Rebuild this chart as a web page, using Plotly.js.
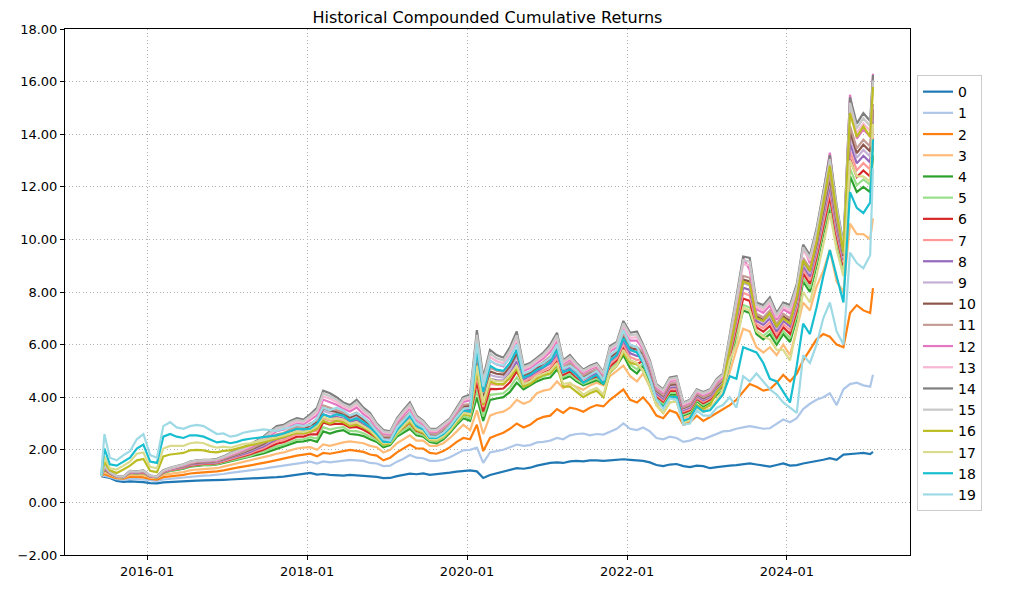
<!DOCTYPE html>
<html>
<head>
<meta charset="utf-8">
<script src="https://cdn.plot.ly/plotly-3.0.1.min.js"></script>
<style>html,body{margin:0;padding:0;background:#fff;}#chart{width:1012px;height:589px;}</style>
</head>
<body>
<div id="chart"></div>
<script>
// Sample dates: start, early spike, mid-month points 2015-07 .. 2025-01, last day
const dates = (function(){ const d=['2015-06-05','2015-06-20']; let y=2015,m=7; while(!(y===2025&&m===2)){ d.push(y+'-'+String(m).padStart(2,'0')+'-15'); m++; if(m>12){m=1;y++;} } d.push('2025-01-28'); return d; })();

const seriesNames = ['0','1','2','3','4','5','6','7','8','9','10','11','12','13','14','15','16','17','18','19'];
const colors = ['#1f77b4','#aec7e8','#ff7f0e','#ffbb78','#2ca02c','#98df8a','#d62728','#ff9896','#9467bd','#c5b0d5','#8c564b','#c49c94','#e377c2','#f7b6d2','#7f7f7f','#c7c7c7','#bcbd22','#dbdb8d','#17becf','#9edae5'];
const yTickVals = [-2,0,2,4,6,8,10,12,14,16,18];
const xTickVals = ['2016-01-01','2018-01-01','2020-01-01','2022-01-01','2024-01-01'];
const xTickText = ['2016-01','2018-01','2020-01','2022-01','2024-01'];

const s0 = [1.00,0.97,0.93,0.82,0.78,0.80,0.79,0.77,
0.73,0.72,0.76,0.78,0.79,0.80,0.82,0.83,0.84,0.84,0.85,0.86,
0.87,0.88,0.89,0.90,0.91,0.92,0.94,0.96,0.98,1.01,1.04,1.07,
1.12,1.06,1.08,1.05,1.03,1.02,1.05,1.03,1.01,0.98,0.97,0.92,
0.93,1.00,1.04,1.09,1.07,1.10,1.05,1.07,1.10,1.13,1.17,1.20,
1.22,1.18,0.93,1.04,1.10,1.18,1.24,1.30,1.28,1.32,1.40,1.46,
1.50,1.52,1.50,1.56,1.58,1.56,1.60,1.60,1.58,1.60,1.62,1.64,
1.62,1.60,1.58,1.52,1.42,1.38,1.44,1.46,1.38,1.34,1.40,1.38,
1.30,1.34,1.38,1.40,1.42,1.46,1.48,1.44,1.40,1.36,1.42,1.48,
1.40,1.42,1.48,1.52,1.58,1.62,1.68,1.62,1.82,1.85,1.86,1.88,
1.84,1.92];
const s1 = [1.00,1.02,0.96,0.88,0.86,0.90,0.89,0.87,
0.83,0.82,0.87,0.90,0.92,0.94,0.98,1.00,1.02,1.03,1.05,1.08,
1.12,1.15,1.18,1.20,1.24,1.28,1.32,1.36,1.40,1.45,1.50,1.52,
1.55,1.48,1.56,1.52,1.55,1.58,1.62,1.60,1.58,1.50,1.48,1.38,
1.40,1.55,1.65,1.80,1.70,1.68,1.58,1.58,1.62,1.72,1.85,1.98,
2.00,2.08,1.50,1.90,1.95,2.00,2.10,2.20,2.15,2.18,2.28,2.30,
2.35,2.45,2.40,2.55,2.60,2.62,2.55,2.60,2.58,2.70,2.80,3.00,
2.80,2.75,2.85,2.70,2.45,2.40,2.50,2.45,2.30,2.35,2.45,2.40,
2.50,2.60,2.70,2.72,2.80,2.85,2.90,2.85,2.80,2.82,3.00,3.15,
3.05,3.20,3.55,3.75,3.90,4.00,4.15,3.70,4.30,4.50,4.55,4.45,
4.40,4.85];
const s2 = [1.00,1.08,1.00,0.92,0.90,0.98,0.97,0.95,
0.89,0.87,0.96,1.00,1.02,1.05,1.10,1.12,1.14,1.15,1.18,1.22,
1.28,1.32,1.36,1.40,1.45,1.50,1.55,1.60,1.66,1.72,1.78,1.82,
1.85,1.75,1.88,1.85,1.90,1.95,2.00,1.96,1.92,1.82,1.78,1.60,
1.70,1.90,2.05,2.20,2.05,2.05,1.88,1.85,1.95,2.10,2.30,2.45,
2.40,2.95,1.95,2.45,2.55,2.65,2.80,3.00,2.85,2.95,3.15,3.25,
3.30,3.55,3.40,3.60,3.55,3.45,3.60,3.70,3.65,3.90,4.10,4.30,
3.90,3.80,4.00,3.70,3.30,3.20,3.50,3.40,2.95,3.05,3.30,3.10,
3.25,3.40,3.55,3.70,3.90,4.20,4.50,4.40,4.25,4.30,4.55,4.85,
4.60,4.90,5.40,5.80,6.20,6.40,6.30,6.00,5.90,7.20,7.50,7.30,
7.20,8.15];
const s3 = [1.00,1.15,1.05,0.95,0.93,1.05,1.04,1.05,
0.94,0.92,1.05,1.10,1.12,1.15,1.22,1.25,1.27,1.28,1.30,1.36,
1.42,1.48,1.52,1.58,1.65,1.70,1.78,1.85,1.90,1.98,2.05,2.08,
2.10,2.00,2.20,2.15,2.22,2.28,2.32,2.28,2.25,2.15,2.10,1.90,
2.00,2.25,2.40,2.55,2.35,2.35,2.15,2.15,2.25,2.45,2.70,2.95,
2.75,3.50,2.60,3.30,3.40,3.45,3.60,3.90,3.75,3.85,4.15,4.25,
4.30,4.60,4.35,4.50,4.40,4.28,4.45,4.55,4.45,4.80,5.00,5.20,
4.80,4.60,4.90,4.40,3.80,3.60,4.00,3.90,3.20,3.30,3.70,3.50,
3.55,3.90,4.10,5.00,5.80,6.60,6.50,5.90,5.70,5.90,5.60,6.00,
5.60,6.60,7.60,7.30,8.20,8.80,9.60,8.40,8.00,10.60,10.20,10.20,
10.00,10.80];
const s4 = [1.00,1.25,1.10,0.98,0.95,1.12,1.10,1.12,
0.98,0.95,1.12,1.20,1.24,1.28,1.36,1.40,1.42,1.42,1.44,1.50,
1.56,1.62,1.66,1.72,1.80,1.86,1.95,2.04,2.10,2.20,2.30,2.32,
2.38,2.30,2.70,2.62,2.70,2.75,2.60,2.58,2.52,2.40,2.30,2.10,
2.18,2.50,2.65,2.80,2.55,2.50,2.30,2.25,2.40,2.65,2.95,3.20,
3.10,4.00,3.10,3.90,3.95,4.00,4.20,4.55,4.30,4.45,4.60,4.70,
4.75,5.05,4.70,4.80,4.60,4.45,4.55,4.65,4.50,4.95,5.20,5.60,
5.10,4.90,5.20,4.60,3.90,3.70,4.10,4.10,3.30,3.40,3.85,3.65,
3.80,4.10,4.30,5.30,6.30,7.30,7.20,6.40,6.20,6.40,6.00,6.40,
6.10,7.00,8.40,8.00,9.00,10.20,11.20,9.80,8.80,12.40,11.80,12.00,
11.80,13.20];
const s5 = [1.00,1.27,1.10,0.98,0.95,1.13,1.11,1.13,
0.98,0.95,1.13,1.21,1.25,1.30,1.38,1.42,1.44,1.44,1.46,1.53,
1.59,1.66,1.70,1.77,1.86,1.92,2.03,2.13,2.19,2.29,2.39,2.40,
2.48,2.43,2.86,2.77,2.83,2.86,2.71,2.71,2.63,2.50,2.37,2.17,
2.23,2.57,2.74,2.90,2.63,2.56,2.35,2.31,2.46,2.71,3.02,3.28,
3.20,4.26,3.27,4.09,4.12,4.15,4.37,4.75,4.39,4.54,4.69,4.80,
4.88,5.19,4.77,4.88,4.67,4.51,4.62,4.72,4.55,5.05,5.29,5.73,
5.24,5.06,5.28,4.68,3.96,3.76,4.17,4.17,3.35,3.45,3.90,3.71,
3.85,4.16,4.36,5.40,6.45,7.51,7.41,6.52,6.33,6.54,6.12,6.52,
6.24,7.13,8.54,8.14,9.14,10.36,11.40,9.95,8.90,12.70,12.06,12.28,
12.07,13.51];
const s6 = [1.00,1.28,1.11,0.98,0.96,1.14,1.12,1.14,
0.99,0.96,1.14,1.23,1.27,1.32,1.40,1.44,1.46,1.46,1.49,1.56,
1.63,1.70,1.75,1.83,1.92,2.00,2.12,2.23,2.29,2.40,2.50,2.50,
2.59,2.59,3.04,2.96,2.99,2.98,2.84,2.87,2.76,2.62,2.45,2.24,
2.29,2.65,2.84,3.02,2.72,2.63,2.41,2.37,2.53,2.77,3.09,3.38,
3.32,4.56,3.46,4.32,4.31,4.33,4.57,4.98,4.50,4.64,4.80,4.92,
5.03,5.36,4.85,4.98,4.75,4.58,4.69,4.79,4.60,5.17,5.40,5.89,
5.40,5.25,5.38,4.78,4.03,3.83,4.24,4.25,3.41,3.51,3.95,3.77,
3.91,4.23,4.43,5.52,6.63,7.75,7.66,6.66,6.49,6.71,6.26,6.66,
6.41,7.29,8.71,8.31,9.31,10.55,11.64,10.13,9.02,13.06,12.37,12.62,
12.39,13.87];
const s7 = [1.00,1.30,1.12,0.99,0.96,1.15,1.13,1.15,
0.99,0.96,1.15,1.24,1.28,1.33,1.42,1.46,1.48,1.48,1.51,1.58,
1.66,1.74,1.79,1.87,1.98,2.06,2.19,2.32,2.37,2.49,2.59,2.59,
2.69,2.72,3.20,3.11,3.12,3.09,2.95,3.00,2.87,2.72,2.52,2.31,
2.35,2.72,2.92,3.12,2.79,2.69,2.46,2.43,2.59,2.83,3.16,3.46,
3.42,4.82,3.63,4.51,4.48,4.48,4.74,5.17,4.59,4.72,4.89,5.02,
5.15,5.50,4.92,5.06,4.82,4.64,4.76,4.86,4.64,5.27,5.49,6.02,
5.53,5.41,5.46,4.86,4.09,3.89,4.31,4.32,3.46,3.56,3.99,3.83,
3.96,4.29,4.49,5.62,6.78,7.96,7.87,6.78,6.62,6.85,6.38,6.78,
6.55,7.42,8.85,8.45,9.45,10.71,11.84,10.28,9.12,13.36,12.63,12.90,
12.66,14.18];
const s8 = [1.00,1.31,1.12,0.99,0.96,1.15,1.13,1.16,
1.00,0.96,1.16,1.25,1.30,1.35,1.44,1.48,1.50,1.50,1.53,1.61,
1.69,1.77,1.84,1.92,2.03,2.13,2.27,2.40,2.46,2.58,2.68,2.67,
2.79,2.85,3.35,3.26,3.25,3.19,3.06,3.13,2.97,2.82,2.59,2.37,
2.40,2.79,3.01,3.22,2.87,2.75,2.51,2.48,2.65,2.88,3.22,3.54,
3.52,5.07,3.79,4.70,4.64,4.63,4.91,5.37,4.68,4.81,4.98,5.12,
5.28,5.64,4.99,5.14,4.89,4.70,4.82,4.92,4.69,5.37,5.58,6.15,
5.67,5.57,5.54,4.94,4.15,3.95,4.37,4.39,3.51,3.61,4.04,3.88,
4.01,4.35,4.55,5.72,6.93,8.16,8.08,6.90,6.75,6.99,6.50,6.90,
6.69,7.55,8.99,8.59,9.59,10.87,12.04,10.43,9.22,13.66,12.89,13.18,
12.93,14.48];
const s9 = [1.00,1.33,1.13,0.99,0.97,1.16,1.14,1.17,
1.00,0.97,1.17,1.26,1.31,1.37,1.46,1.50,1.52,1.52,1.55,1.63,
1.72,1.80,1.87,1.96,2.08,2.18,2.33,2.47,2.53,2.65,2.75,2.74,
2.87,2.95,3.48,3.39,3.35,3.28,3.15,3.24,3.06,2.90,2.65,2.43,
2.44,2.85,3.08,3.30,2.93,2.80,2.55,2.53,2.70,2.93,3.28,3.60,
3.60,5.28,3.93,4.85,4.78,4.75,5.05,5.53,4.75,4.88,5.05,5.20,
5.38,5.75,5.05,5.20,4.95,4.75,4.88,4.98,4.73,5.45,5.65,6.25,
5.78,5.70,5.60,5.00,4.20,4.00,4.43,4.45,3.55,3.65,4.08,3.93,
4.05,4.40,4.60,5.80,7.05,8.33,8.25,7.00,6.85,7.10,6.60,7.00,
6.80,7.65,9.10,8.70,9.70,11.00,12.20,10.55,9.30,13.90,13.10,13.40,
13.15,14.73];
const s10 = [1.00,1.34,1.13,0.99,0.97,1.17,1.15,1.18,
1.00,0.97,1.18,1.27,1.32,1.38,1.47,1.51,1.53,1.53,1.57,1.64,
1.74,1.83,1.90,1.99,2.11,2.22,2.38,2.53,2.58,2.71,2.81,2.79,
2.93,3.04,3.58,3.49,3.44,3.35,3.23,3.33,3.14,2.97,2.70,2.47,
2.48,2.90,3.13,3.37,2.98,2.84,2.59,2.56,2.74,2.96,3.32,3.66,
3.67,5.45,4.04,4.98,4.89,4.86,5.17,5.66,4.81,4.93,5.11,5.27,
5.46,5.85,5.10,5.26,5.00,4.79,4.92,5.02,4.76,5.52,5.71,6.34,
5.87,5.81,5.66,5.06,4.24,4.04,4.47,4.50,3.59,3.69,4.11,3.96,
4.09,4.44,4.64,5.87,7.16,8.47,8.40,7.08,6.94,7.20,6.68,7.08,
6.90,7.74,9.20,8.80,9.80,11.11,12.34,10.66,9.37,14.11,13.28,13.60,
13.34,14.94];
const s11 = [1.00,1.35,1.13,0.99,0.97,1.17,1.15,1.18,
1.01,0.97,1.18,1.28,1.33,1.39,1.48,1.53,1.55,1.55,1.58,1.66,
1.76,1.85,1.93,2.03,2.15,2.27,2.43,2.59,2.64,2.78,2.88,2.85,
3.00,3.13,3.69,3.60,3.53,3.42,3.30,3.42,3.21,3.04,2.75,2.52,
2.51,2.95,3.19,3.44,3.03,2.88,2.62,2.60,2.78,3.00,3.37,3.71,
3.74,5.63,4.16,5.12,5.01,4.96,5.29,5.80,4.88,4.99,5.18,5.34,
5.55,5.95,5.15,5.31,5.05,4.83,4.97,5.07,4.79,5.59,5.78,6.43,
5.96,5.92,5.71,5.11,4.28,4.08,4.52,4.55,3.62,3.72,4.14,4.00,
4.12,4.48,4.68,5.94,7.26,8.61,8.54,7.17,7.03,7.30,6.77,7.17,
7.00,7.83,9.30,8.90,9.90,11.22,12.48,10.76,9.44,14.32,13.46,13.79,
13.53,15.15];
const s12 = [1.00,1.37,1.14,1.00,0.97,1.18,1.16,1.20,
1.01,0.97,1.20,1.29,1.35,1.41,1.51,1.56,1.58,1.58,1.61,1.70,
1.81,1.90,1.99,2.09,2.23,2.36,2.54,2.71,2.76,2.90,3.00,2.97,
3.14,3.31,3.91,3.81,3.71,3.57,3.46,3.61,3.36,3.18,2.85,2.61,
2.59,3.05,3.31,3.58,3.14,2.97,2.69,2.68,2.87,3.08,3.46,3.82,
3.88,5.99,4.39,5.38,5.24,5.17,5.53,6.07,5.00,5.11,5.30,5.48,
5.73,6.14,5.25,5.42,5.15,4.92,5.06,5.16,4.85,5.73,5.90,6.61,
6.15,6.15,5.82,5.22,4.37,4.17,4.61,4.65,3.69,3.79,4.20,4.08,
4.19,4.57,4.77,6.08,7.47,9.30,8.84,7.34,7.21,7.49,6.94,7.34,
7.19,8.01,9.75,9.09,10.09,11.75,13.30,10.97,9.58,15.50,13.83,14.18,
13.91,16.30];
const s13 = [1.00,1.38,1.14,1.00,0.98,1.19,1.17,1.21,
1.01,0.98,1.21,1.30,1.36,1.43,1.52,1.57,1.59,1.59,1.63,1.72,
1.84,1.93,2.02,2.13,2.27,2.41,2.60,2.78,2.83,2.97,3.07,3.03,
3.21,3.42,4.03,3.94,3.82,3.65,3.55,3.72,3.45,3.26,2.90,2.66,
2.63,3.10,3.38,3.66,3.20,3.02,2.73,2.72,2.92,3.12,3.51,3.89,
3.96,6.19,4.52,5.53,5.37,5.29,5.66,6.23,5.07,5.18,5.37,5.56,
5.83,6.25,5.30,5.49,5.20,4.97,5.11,5.21,4.89,5.81,5.97,6.72,
6.26,6.28,5.89,5.29,4.42,4.22,4.66,4.70,3.73,3.83,4.24,4.12,
4.23,4.62,4.82,6.16,7.59,9.06,9.01,7.43,7.32,7.60,7.03,7.43,
7.30,8.12,9.60,9.20,10.20,11.58,12.92,11.09,9.66,14.98,14.04,14.41,
14.12,15.82];
const s14 = [1.00,1.40,1.15,1.00,0.98,1.20,1.18,1.22,
1.02,0.98,1.22,1.32,1.38,1.45,1.55,1.60,1.62,1.62,1.66,1.75,
1.88,1.98,2.08,2.20,2.35,2.50,2.70,2.90,2.95,3.10,3.20,3.15,
3.35,3.60,4.25,4.15,4.00,3.80,3.70,3.90,3.60,3.40,3.00,2.75,
2.70,3.20,3.50,3.80,3.30,3.10,2.80,2.80,3.00,3.20,3.60,4.00,
4.10,6.55,4.75,5.80,5.60,5.50,5.90,6.50,5.20,5.30,5.50,5.70,
6.00,6.45,5.40,5.60,5.30,5.05,5.20,5.30,4.95,5.95,6.10,6.90,
6.45,6.50,6.00,5.40,4.50,4.30,4.75,4.80,3.80,3.90,4.30,4.20,
4.30,4.70,4.90,6.30,7.80,9.35,9.30,7.60,7.50,7.80,7.20,7.60,
7.50,8.30,9.80,9.40,10.40,11.80,13.20,11.30,9.80,15.40,14.40,14.80,
14.50,16.25];
const s15 = [1.00,1.39,1.15,1.00,0.98,1.19,1.17,1.21,
1.02,0.98,1.21,1.31,1.37,1.44,1.54,1.59,1.61,1.61,1.64,1.73,
1.86,1.95,2.05,2.17,2.31,2.46,2.65,2.84,2.89,3.04,3.14,3.09,
3.28,3.51,4.14,4.04,3.91,3.73,3.62,3.81,3.52,3.33,2.95,2.70,
2.66,3.15,3.44,3.73,3.25,3.06,2.77,2.76,2.96,3.16,3.55,3.94,
4.03,6.37,4.63,5.67,5.48,5.40,5.78,6.36,5.14,5.24,5.44,5.63,
5.91,6.35,5.35,5.54,5.25,5.01,5.15,5.25,4.92,5.88,6.04,6.81,
6.36,6.39,5.94,5.34,4.46,4.26,4.70,4.75,3.77,3.87,4.27,4.16,
4.27,4.66,4.86,6.23,7.70,9.21,9.15,7.52,7.41,7.70,7.12,7.52,
7.40,8.21,9.70,9.30,10.30,11.69,13.06,11.20,9.73,15.19,14.22,14.60,
14.31,16.04];
const s16 = [1.00,1.55,1.22,1.12,1.25,1.40,1.60,1.65,
1.20,1.15,1.75,1.82,1.85,1.88,1.98,2.00,1.98,1.92,1.90,1.96,
1.98,2.05,2.12,2.18,2.22,2.28,2.35,2.42,2.48,2.56,2.64,2.62,
2.68,2.80,3.10,3.00,3.10,3.05,2.90,2.95,2.85,2.70,2.45,2.20,
2.25,2.62,2.85,3.05,2.75,2.65,2.38,2.35,2.50,2.72,3.05,3.35,
3.30,5.00,3.70,4.60,4.50,4.50,4.75,5.10,4.40,4.50,4.70,4.85,
4.90,5.20,4.40,4.40,4.20,4.00,4.15,4.25,4.00,4.95,5.20,5.70,
5.30,5.25,5.00,4.40,3.70,3.40,3.80,3.85,3.00,3.20,3.70,3.55,
3.70,4.20,4.50,5.80,7.00,8.40,8.30,7.00,6.90,7.20,6.70,7.00,
6.80,7.80,9.20,8.80,9.90,11.40,12.80,11.00,9.50,14.80,13.90,14.30,
13.90,15.80];
const s17 = [1.00,1.75,1.30,1.25,1.40,1.55,1.85,1.90,
1.35,1.30,2.05,2.15,2.15,2.15,2.25,2.28,2.25,2.15,2.08,2.12,
2.08,2.15,2.22,2.25,2.30,2.35,2.40,2.48,2.55,2.62,2.70,2.68,
2.75,2.90,3.25,3.15,3.20,3.15,3.00,3.05,2.90,2.75,2.50,2.25,
2.28,2.65,2.90,3.15,2.80,2.70,2.40,2.38,2.52,2.75,3.10,3.40,
3.35,5.20,3.80,4.70,4.60,4.60,4.85,5.20,4.50,4.60,4.80,4.90,
5.00,5.30,4.50,4.55,4.35,4.10,4.25,4.35,4.10,5.00,5.20,5.80,
5.40,5.30,5.00,4.40,3.70,3.40,3.80,3.85,3.00,3.15,3.60,3.45,
3.55,3.90,4.30,5.40,6.00,7.40,7.30,6.50,6.30,6.20,5.80,5.80,
5.40,6.60,8.00,7.60,8.60,9.80,11.00,9.60,8.60,13.00,12.40,12.40,
12.20,14.40];
const s18 = [1.00,2.05,1.45,1.40,1.55,1.70,2.05,2.20,
1.55,1.50,2.50,2.60,2.50,2.45,2.55,2.55,2.50,2.38,2.28,2.32,
2.25,2.30,2.38,2.42,2.45,2.48,2.50,2.55,2.62,2.70,2.80,2.78,
2.80,3.00,3.35,3.25,3.35,3.30,3.10,3.20,3.05,2.85,2.60,2.30,
2.30,2.75,3.00,3.30,2.90,2.78,2.45,2.45,2.60,2.85,3.20,3.50,
3.45,5.80,4.20,5.20,5.05,5.00,5.30,5.80,4.75,4.85,5.05,5.15,
5.35,5.80,4.95,5.05,4.85,4.55,4.70,4.85,4.50,5.40,5.60,6.25,
5.80,5.70,5.30,4.70,3.90,3.60,4.00,4.00,3.10,3.20,3.65,3.45,
3.50,3.80,4.10,4.80,4.70,5.90,5.80,5.70,5.30,4.70,4.60,4.20,
3.80,5.20,6.80,6.40,7.40,8.60,9.60,8.60,7.60,11.80,11.20,11.00,
11.40,13.80];
const s19 = [1.00,2.60,1.70,1.60,1.80,1.95,2.40,2.60,
1.80,1.70,2.90,3.05,2.85,2.80,2.90,2.95,2.90,2.75,2.60,2.62,
2.50,2.55,2.65,2.70,2.75,2.78,2.75,2.72,2.80,2.85,2.95,2.90,
2.95,3.20,3.60,3.50,3.60,3.50,3.30,3.40,3.25,3.00,2.70,2.40,
2.35,2.85,3.10,3.40,3.00,2.85,2.50,2.50,2.65,2.90,3.25,3.55,
3.60,6.05,4.40,5.40,5.25,5.20,5.50,6.00,4.90,5.00,5.20,5.30,
5.50,6.00,5.10,5.20,5.00,4.70,4.85,5.00,4.65,5.60,5.80,6.55,
6.00,5.90,5.40,4.70,3.90,3.55,3.95,3.90,2.95,3.00,3.50,3.30,
3.30,3.60,3.70,4.00,3.60,4.80,4.60,4.90,4.60,4.30,4.10,3.80,
3.60,3.40,5.60,5.30,6.00,7.00,7.60,6.50,6.00,9.50,9.10,8.90,
9.40,12.70];

const allSeries = [s0,s1,s2,s3,s4,s5,s6,s7,s8,s9,s10,s11,s12,s13,s14,s15,s16,s17,s18,s19];

const traces = allSeries.map((vals, i) => ({
  type: 'scatter', mode: 'lines', name: seriesNames[i],
  x: dates, y: vals,
  line: {color: colors[i], width: 2.2},
  hoverinfo: 'skip'
}));

const font = {family: 'DejaVu Sans, Verdana, sans-serif', size: 13, color: '#000'};
const layout = {
  width: 1012, height: 589,
  margin: {l: 65, r: 102, t: 29, b: 34, pad: 0},
  paper_bgcolor: '#fff', plot_bgcolor: '#fff',
  font: font,
  title: {text: 'Historical Compounded Cumulative Returns', font: {family: font.family, size: 16, color: '#000'},
          x: 0.4817, xanchor: 'center', y: 0.971, yanchor: 'middle', xref: 'container', yref: 'container'},
  showlegend: true,
  legend: {x: 1.0083, xanchor: 'left', y: 0.498, yanchor: 'middle', bgcolor: '#fff',
           bordercolor: '#cccccc', borderwidth: 1, font: {family: font.family, size: 14, color: '#000'},
           itemwidth: 30, traceorder: 'normal'},
  xaxis: {type: 'date', range: ['2014-12-22', '2025-07-16'],
          tickvals: xTickVals, ticktext: xTickText,
          showline: true, mirror: true, linecolor: '#000', linewidth: 1,
          ticks: 'outside', ticklen: 4, tickcolor: '#000', tickwidth: 1,
          showgrid: true, gridcolor: '#b0b0b0', griddash: '1px,2.5px', gridwidth: 1, zeroline: false,
          tickfont: font},
  yaxis: {range: [-2, 18], tickvals: yTickVals, tickformat: '.2f',
          showline: true, mirror: true, linecolor: '#000', linewidth: 1,
          ticks: 'outside', ticklen: 4, tickcolor: '#000', tickwidth: 1,
          showgrid: true, gridcolor: '#b0b0b0', griddash: '1px,2.5px', gridwidth: 1, zeroline: false,
          tickfont: font}
};

Plotly.newPlot('chart', traces, layout, {staticPlot: true, displayModeBar: false}).then(() => {
  const bad = allSeries.map((s,i)=>[i,s.length]).filter(p=>p[1]!==dates.length);
  if (bad.length) throw new Error('Length mismatch (dates '+dates.length+'): '+JSON.stringify(bad));
});
</script>
</body>
</html>
